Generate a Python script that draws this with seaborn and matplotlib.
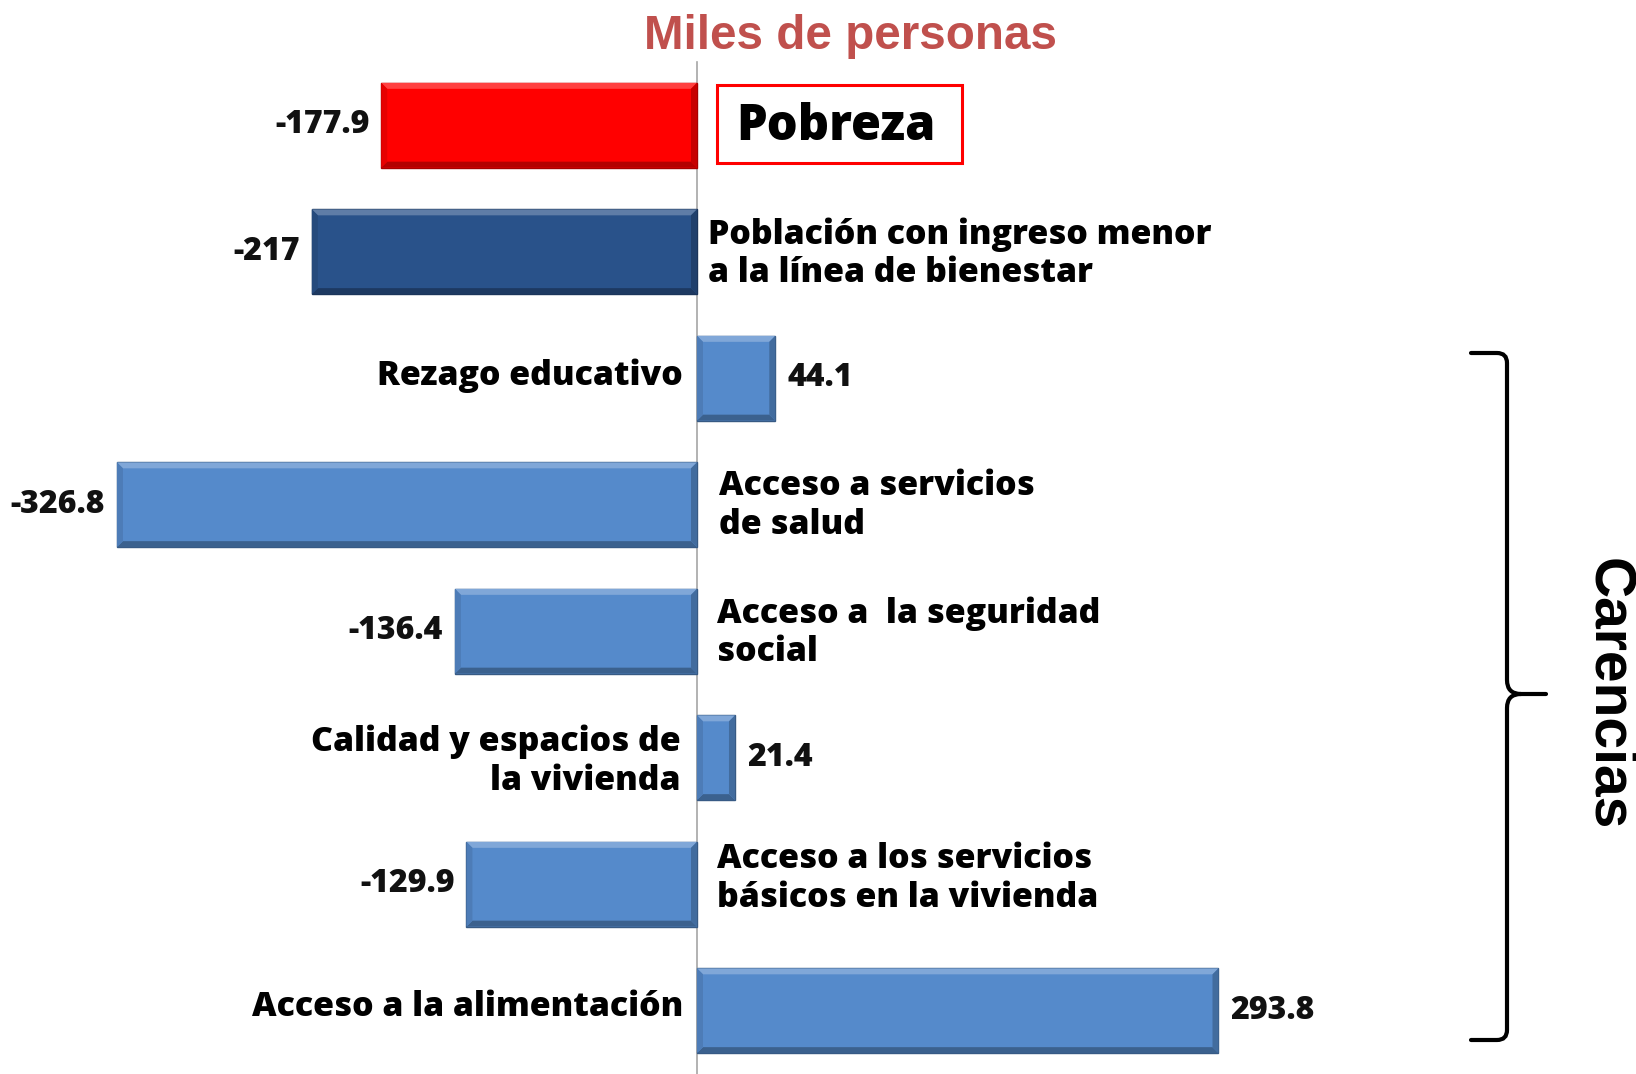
import numpy as np
import pandas as pd
import seaborn as sns
import matplotlib.pyplot as plt
from matplotlib import font_manager
from matplotlib.colors import to_rgb
from matplotlib.path import Path
from matplotlib.patches import PathPatch, Rectangle, Polygon

# ---------------- data ----------------
categories = [
    "Pobreza",
    "Población con ingreso menor\na la línea de bienestar",
    "Rezago educativo",
    "Acceso a servicios\nde salud",
    "Acceso a  la seguridad\nsocial",
    "Calidad y espacios de\nla vivienda",
    "Acceso a los servicios\nbásicos en la vivienda",
    "Acceso a la alimentación",
]
values = [-177.9, -217, 44.1, -326.8, -136.4, 21.4, -129.9, 293.8]
value_labels = ["-177.9", "-217", "44.1", "-326.8", "-136.4", "21.4", "-129.9", "293.8"]
title = "Miles de personas"
group_label = "Carencias"

fills = ["#FF0000", "#29528A", "#558ACB", "#558ACB", "#558ACB", "#558ACB", "#558ACB", "#558ACB"]

# ---------------- figure ----------------
W, H = 1636, 1074
sns.set_style("white")
plt.rcParams["font.family"] = ["Open Sans", "DejaVu Sans"]

fig = plt.figure(figsize=(W / 100, H / 100), dpi=100)
ax_top_px = 62
unit_px = 127.2
ax = fig.add_axes([0, 0, 1, (H - ax_top_px) / H])

df = pd.DataFrame({"cat": categories, "val": values})
sns.barplot(data=df, x="val", y="cat", hue="cat", palette=fills, orient="h",
            width=0.67, saturation=1, legend=False, ax=ax)

zero_px = 697
ppu = 1.775
ax.set_xlim(-zero_px / ppu, (W - zero_px) / ppu)
ax.set_ylim(-0.5 + (H - ax_top_px) / unit_px, -0.5)


def shade(c, f):
    r = np.array(to_rgb(c))
    if f >= 0:
        return tuple(r + (1 - r) * f)
    return tuple(r * (1 + f))


# bevel effect built from each bar's own geometry
tx = 6 / ppu
ty = 6 / unit_px
for p, c in zip(ax.patches, fills):
    p.set_edgecolor(shade(c, -0.35))
    p.set_linewidth(1.0)
    x0, x1 = sorted([p.get_x(), p.get_x() + p.get_width()])
    y0, y1 = p.get_y(), p.get_y() + p.get_height()
    pieces = [
        ([(x0, y0), (x1, y0), (x1 - tx, y0 + ty), (x0 + tx, y0 + ty)], shade(c, 0.25)),
        ([(x0, y1), (x1, y1), (x1 - tx, y1 - ty), (x0 + tx, y1 - ty)], shade(c, -0.30)),
        ([(x0, y0), (x0 + tx, y0 + ty), (x0 + tx, y1 - ty), (x0, y1)], shade(c, -0.10)),
        ([(x1, y0), (x1 - tx, y0 + ty), (x1 - tx, y1 - ty), (x1, y1)], shade(c, -0.22)),
    ]
    for pts, col in pieces:
        ax.add_patch(Polygon(pts, closed=True, facecolor=col, edgecolor="none", zorder=p.get_zorder() + 0.1))

for s in ["top", "right", "bottom"]:
    ax.spines[s].set_visible(False)
ax.spines["left"].set_position(("data", 0))
ax.spines["left"].set_color("#A6A6A6")
ax.spines["left"].set_linewidth(1.2)
ax.spines["left"].set_zorder(0.5)
ax.set_yticks(np.arange(-0.5, len(categories), 1))
ax.set_yticklabels([])
ax.tick_params(axis="y", direction="out", length=6, color="#A6A6A6", width=1.2)
ax.set_xticks([])
ax.set_xlabel("")
ax.set_ylabel("")

# value labels
for cont, lab in zip(ax.containers, value_labels):
    ax.bar_label(cont, labels=[lab], padding=8.5, fontsize=23, fontweight="heavy",
                 color="#111111")


def dx(px):
    return (px - zero_px) / ppu


def dy(py):
    return (py - ax_top_px) / unit_px - 0.5


lab_kw = dict(fontsize=24.4, fontweight="heavy", color="#000000", va="center", linespacing=1.17)
ax.text(dx(708), dy(255), categories[1], ha="left", **lab_kw)
ax.text(dx(683), dy(377), categories[2], ha="right", **lab_kw)
ax.text(dx(719), dy(508), categories[3], ha="left", **lab_kw)
ax.text(dx(717), dy(636), categories[4], ha="left", **lab_kw)
ax.text(dx(681), dy(765), categories[5], ha="right", multialignment="right", **lab_kw)
ax.text(dx(717), dy(883), categories[6], ha="left", **lab_kw)
ax.text(dx(683), dy(1012), categories[7], ha="right", **lab_kw)

# Pobreza boxed label
ax.add_patch(Rectangle((dx(717), dy(164)), dx(962) - dx(717), dy(85) - dy(164),
                       facecolor="white", edgecolor="#FF0000", linewidth=2.2, zorder=3))
ax.text(dx(836), dy(127), categories[0], ha="center", va="center", fontsize=35,
        fontweight="heavy", color="#000000", zorder=4)

# title
fig.text(850 / W, 1 - 49 / H, title, ha="center", va="baseline",
         fontsize=34.3, fontweight="bold", color="#C0504D", family="Liberation Sans")

# bracket
def fp(x, y):
    return (x / W, 1 - y / H)


verts = [fp(1471, 353), fp(1497, 353), fp(1507, 353), fp(1507, 363), fp(1507, 680),
         fp(1507, 694), fp(1521, 694), fp(1546, 694),
         fp(1521, 694), fp(1507, 694), fp(1507, 708), fp(1507, 1030),
         fp(1507, 1040), fp(1497, 1040), fp(1471, 1040)]
codes = [Path.MOVETO, Path.LINETO, Path.CURVE3, Path.CURVE3, Path.LINETO,
         Path.CURVE3, Path.CURVE3, Path.LINETO,
         Path.MOVETO, Path.CURVE3, Path.CURVE3, Path.LINETO,
         Path.CURVE3, Path.CURVE3, Path.LINETO]
fig.add_artist(PathPatch(Path(verts, codes), facecolor="none", edgecolor="black",
                         linewidth=3.0, transform=fig.transFigure, capstyle="round"))

names = {f.name for f in font_manager.fontManager.ttflist}
if "Liberation Sans Narrow" in names:
    cfam, csize = "Liberation Sans Narrow", 46
else:
    cfam, csize = "Liberation Sans", 41
fig.text(1608 / W, 1 - 694 / H, group_label, rotation=-90, ha="center", va="center",
         fontsize=csize, fontweight="bold", color="black", family=cfam)

fig.savefig("out.png", dpi=100)
